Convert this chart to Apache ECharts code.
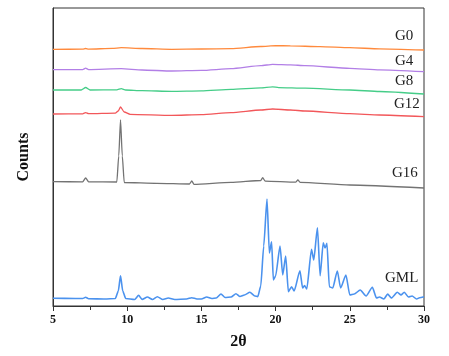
<!DOCTYPE html>
<html>
<head>
<meta charset="utf-8">
<script src="https://cdn.jsdelivr.net/npm/echarts@6/dist/echarts.min.js"></script>
<style>html,body{margin:0;padding:0;background:#fff}#c{width:449px;height:356px}</style>
</head>
<body>
<div id="c"></div>
<script>
// Two-theta ticks
var xTicks = [5, 10, 15, 20, 25, 30];
var seriesNames = ['G0', 'G4', 'G8', 'G12', 'G16', 'GML'];

// Values are stacked (offset) intensities, arbitrary counts
var g0X = [5, 7.0, 7.2, 7.4, 9.0, 9.6, 11, 13, 15, 17, 19, 20, 21, 23, 25, 27, 30];
var g0Y = [256.7, 256.8, 257.5, 256.9, 257.6, 258.3, 257.5, 256.7, 257.0, 257.3, 259.5, 260.3, 260.2, 259.3, 258.3, 257.2, 256.0];

var g4X = [5, 7.0, 7.2, 7.4, 9.6, 11, 13, 15, 17, 19, 19.8, 21, 22, 25, 27, 30];
var g4Y = [236.3, 236.4, 237.8, 236.4, 237.3, 236.0, 235.0, 235.6, 237.3, 240.3, 241.7, 241.2, 240.3, 237.7, 236.2, 234.3];

var g8X = [5, 6.9, 7.2, 7.5, 9.3, 9.6, 9.9, 11, 13, 15, 17, 19, 19.8, 20.2, 22, 25, 27, 30];
var g8Y = [216.0, 216.0, 218.5, 216.0, 216.2, 217.4, 216.0, 215.3, 214.7, 215.2, 216.7, 218.2, 219.2, 218.4, 217.8, 216.0, 214.5, 212.0];

var g12X = [5, 7.0, 7.2, 7.4, 9.2, 9.4, 9.55, 9.8, 10.2, 13, 15, 17, 19, 19.8, 21, 22, 25, 27, 30];
var g12Y = [192.0, 192.2, 193.4, 192.3, 192.9, 195.0, 199.0, 194.0, 191.7, 190.7, 191.3, 193.3, 196.0, 197.0, 196.0, 195.0, 192.3, 191.0, 189.3];

var g16X = [5, 7.0, 7.2, 7.4, 9.3, 9.43, 9.55, 9.67, 9.8, 12, 14.2, 14.35, 14.5, 17, 19.0, 19.13, 19.3, 21.35, 21.5, 21.65, 25, 30];
var g16Y = [124.3, 124.2, 128.0, 124.2, 124.0, 150.0, 186.0, 150.0, 123.5, 122.7, 122.0, 125.0, 121.7, 123.6, 125.5, 128.3, 124.8, 123.8, 126.0, 123.6, 121.0, 118.0];

var gmlX = [5, 6.5, 7.0, 7.2, 7.4, 8.5, 9.2, 9.4, 9.55, 9.7, 9.9, 10.5, 10.77, 11.0, 11.36, 11.7, 12.03, 12.4, 12.77, 13.2, 14.0, 14.35, 14.7, 15.0, 15.36, 15.7, 16.0, 16.32, 16.6, 17.0, 17.33, 17.6, 17.9, 18.27, 18.6, 18.8, 19.0, 19.2, 19.42, 19.58, 19.73, 19.85, 20.0, 20.3, 20.48, 20.68, 20.86, 21.08, 21.25, 21.64, 21.82, 21.95, 22.1, 22.42, 22.57, 22.82, 23.0, 23.21, 23.33, 23.46, 23.62, 23.85, 24.16, 24.38, 24.74, 25.0, 25.3, 25.7, 26.1, 26.52, 26.8, 27.0, 27.3, 27.55, 27.8, 28.2, 28.45, 28.67, 28.95, 29.2, 29.5, 29.7, 30];
var gmlY = [7.7, 7.5, 7.5, 8.7, 7.3, 7.0, 7.5, 15.0, 30.3, 15.0, 7.5, 6.5, 10.7, 6.5, 9.0, 6.5, 9.3, 6.5, 8.0, 6.5, 7.0, 8.3, 7.0, 7.0, 9.0, 7.5, 8.0, 12.0, 8.5, 9.0, 12.3, 9.5, 11.0, 13.7, 10.0, 9.3, 20.0, 60.0, 107.0, 53.0, 64.3, 26.0, 30.0, 60.0, 31.0, 50.0, 14.3, 19.3, 15.0, 35.3, 18.0, 20.5, 17.0, 56.7, 46.0, 78.3, 30.3, 63.3, 58.0, 62.7, 19.3, 18.0, 35.0, 18.0, 31.0, 11.0, 12.0, 16.0, 10.0, 18.7, 8.0, 9.0, 7.0, 12.0, 8.0, 13.7, 11.0, 13.7, 9.0, 10.0, 7.0, 8.3, 9.3];

function pairs(xs, ys) { return xs.map(function (x, i) { return [x, ys[i]]; }); }

var colors = ['#ff8a3d', '#b27fe6', '#45cd88', '#f2575a', '#737373', '#4b92ee'];
var allX = [g0X, g4X, g8X, g12X, g16X, gmlX];
var allY = [g0Y, g4Y, g8Y, g12Y, g16Y, gmlY];
var labelPos = [[395, 38], [395, 63], [395, 82.5], [394, 106], [392, 175], [385, 280]];

var chart = echarts.init(document.getElementById('c'), null, { renderer: 'canvas' });
var series = seriesNames.map(function (n, i) {
  return {
    name: n, type: 'line', data: pairs(allX[i], allY[i]), showSymbol: false, symbol: 'none',
    smooth: 0.2, smoothMonotone: 'x',
    lineStyle: { color: colors[i], width: i === 5 ? 1.6 : 1.3 }, animation: false
  };
});
var graphics = seriesNames.map(function (n, i) {
  return {
    type: 'text', left: labelPos[i][0], top: labelPos[i][1] - 9,
    style: { text: n, font: '15px "Liberation Serif"', fill: '#222' }
  };
});

chart.setOption({
  animation: false,
  grid: { left: 53, right: 25, top: 8, bottom: 50, show: true, borderColor: '#333', borderWidth: 1 },
  xAxis: {
    type: 'value', min: xTicks[0], max: xTicks[xTicks.length - 1], interval: 5,
    name: '2θ', nameLocation: 'middle', nameGap: 28,
    nameTextStyle: { fontFamily: 'Liberation Serif', fontWeight: 'bold', fontSize: 16, color: '#111' },
    axisLine: { lineStyle: { color: '#333', width: 1 } },
    axisTick: { show: true, length: 5, lineStyle: { color: '#333' } },
    minorTick: { show: true, splitNumber: 2, length: 4, lineStyle: { color: '#333' } },
    splitLine: { show: false },
    axisLabel: { fontFamily: 'Liberation Serif', fontWeight: 'bold', fontSize: 12, color: '#111', margin: 8 }
  },
  yAxis: {
    type: 'value', min: 0, max: 298,
    name: 'Counts', nameLocation: 'middle', nameGap: 21,
    nameTextStyle: { fontFamily: 'Liberation Serif', fontWeight: 'bold', fontSize: 16, color: '#111' },
    axisLine: { show: true, lineStyle: { color: '#333', width: 1 } },
    axisTick: { show: false }, axisLabel: { show: false }, splitLine: { show: false }
  },
  series: series,
  graphic: graphics
});
</script>
</body>
</html>
